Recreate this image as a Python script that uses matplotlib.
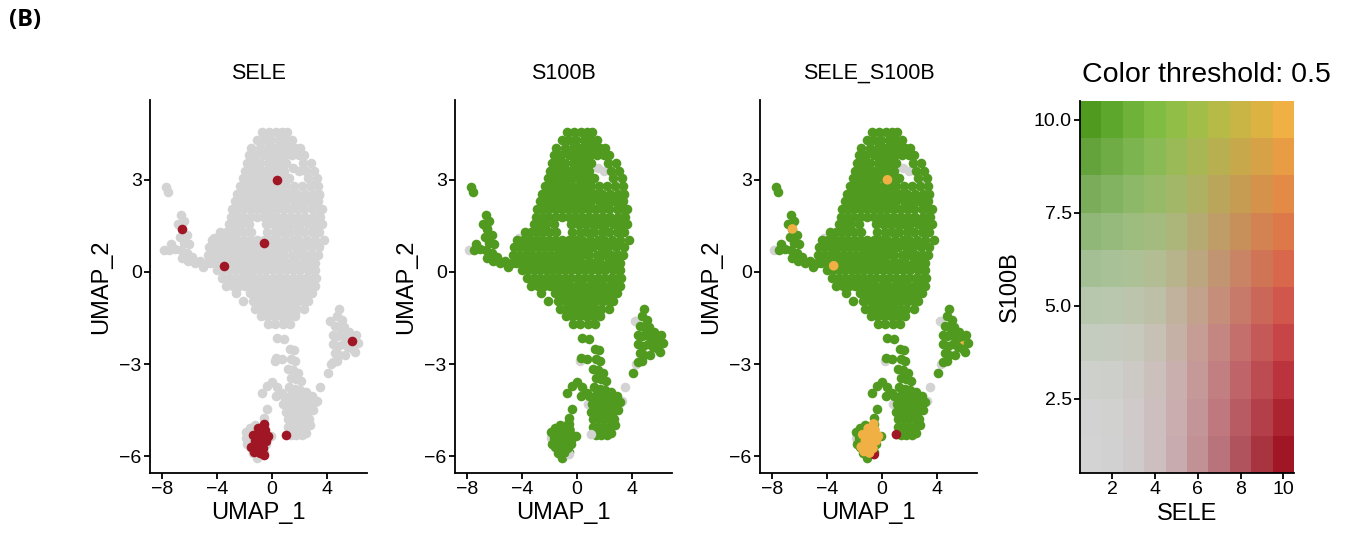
import numpy as np
import matplotlib
matplotlib.use("Agg")
import matplotlib.pyplot as plt

plt.rcParams["font.family"] = ["Liberation Sans", "DejaVu Sans"]

# ---- data (UMAP coordinates) ----
# main body, row by row: (UMAP_2, [UMAP_1 ...])
body_rows = [
    (4.55, [-0.7, -0.2, 0.3, 0.75, 1.1]),
    (4.30, [-1.1, -0.55, -0.05, 0.5, 1.0, 1.45]),
    (4.05, [-1.5, -0.85, -0.3, 0.25, 0.75, 1.25, 1.7, 2.05]),
    (3.80, [-1.7, -1.15, -0.6, -0.05, 0.45, 0.95, 1.45, 1.95, 2.35]),
    (3.55, [-1.8, -1.35, -0.85, -0.3, 0.2, 0.7, 1.05, 2.25, 2.85]),
    (3.30, [-1.95, -1.5, -1.05, -0.55, -0.05, 0.45, 0.9, 2.45, 3.05]),
    (3.05, [-2.1, -1.65, -1.2, -0.75, -0.25, 0.25, 0.75, 1.25, 2.6, 3.25]),
    (2.80, [-2.3, -1.85, -1.4, -0.95, -0.45, 0.05, 0.5, 1.0, 1.6, 2.15, 2.75, 3.35]),
    (2.55, [-2.5, -2.05, -1.6, -1.15, -0.7, -0.2, 0.3, 0.8, 1.3, 1.85, 2.4, 2.95, 3.45]),
    (2.30, [-2.7, -2.25, -1.8, -1.35, -0.9, -0.45, 0.05, 0.55, 1.05, 1.6, 2.1, 2.65, 3.15, 3.35]),
    (2.05, [-2.9, -2.45, -2.0, -1.55, -1.1, -0.65, -0.2, 0.3, 0.8, 1.3, 1.85, 2.35, 2.9, 3.35, 3.6]),
    (1.80, [-3.0, -2.55, -2.1, -1.6, -1.1, -0.6, -0.1, 0.4, 0.9, 1.4, 1.9, 2.4, 2.95, 3.5]),
    (1.55, [-3.15, -2.7, -2.25, -1.7, -0.45, 0.05, 0.6, 1.1, 1.55, 2.05, 2.6, 3.15, 3.65]),
    (1.30, [-3.8, -3.35, -2.9, -2.45, -2.0, -1.5, -0.35, 0.2, 0.7, 1.25, 1.8, 2.35, 2.9, 3.45]),
    (1.05, [-4.35, -3.9, -3.45, -2.95, -2.5, -2.05, -1.6, -1.1, -0.6, -0.1, 0.4, 0.95, 1.5, 2.0, 2.55, 3.1, 3.75]),
    (0.80, [-4.55, -4.1, -3.65, -3.2, -2.75, -2.3, -1.85, -1.35, -0.85, -0.35, 0.15, 0.65, 1.2, 1.75, 2.25, 2.8, 3.45]),
    (0.55, [-4.65, -4.2, -3.75, -3.3, -2.85, -2.4, -1.95, -1.5, -1.05, -0.6, -0.1, 0.4, 0.9, 1.45, 1.95, 2.5, 3.0, 3.35]),
    (0.30, [-4.4, -3.95, -3.5, -3.05, -2.6, -2.15, -1.7, -1.25, -0.8, -0.3, 0.2, 0.7, 1.2, 1.7, 2.25, 2.75, 3.15]),
    (0.05, [-4.0, -3.55, -3.1, -2.65, -2.2, -1.75, -1.3, -0.85, -0.4, 0.1, 0.6, 1.05, 1.55, 2.05, 2.6, 3.1]),
    (-0.20, [-3.6, -3.15, -2.7, -2.25, -1.8, -1.35, -0.9, -0.45, 0.05, 0.5, 1.0, 1.5, 2.0, 2.5, 2.95, 3.2]),
    (-0.45, [-3.3, -2.85, -2.4, -1.95, -1.5, -1.05, -0.6, -0.1, 0.35, 0.85, 1.3, 1.8, 2.3, 2.75, 3.1]),
    (-0.70, [-2.6, -1.6, -1.15, -0.7, -0.25, 0.25, 0.7, 1.15, 1.65, 2.1, 2.55, 2.9]),
    (-0.95, [-2.1, -1.35, -0.9, -0.45, 0.0, 0.5, 0.95, 1.4, 1.9, 2.35, 2.6]),
    (-1.20, [-1.2, -0.7, -0.2, 0.3, 0.75, 1.25, 1.75, 2.3]),
    (-1.45, [-0.8, -0.35, 0.15, 0.65, 1.15, 1.7]),
    (-1.70, [-0.3, 0.25, 0.8, 1.3]),
]

left_cluster = [
    (-7.7, 2.75), (-7.55, 2.6), (-6.6, 1.85), (-6.4, 1.65), (-6.8, 1.55),
    (-6.5, 1.4), (-6.2, 1.2), (-6.7, 1.15), (-6.4, 0.95), (-7.3, 0.9),
    (-7.5, 0.7), (-7.0, 0.75), (-6.0, 0.9), (-6.6, 0.7), (-6.2, 0.6),
    (-5.8, 0.5), (-6.5, 0.45), (-6.1, 0.35), (-5.6, 0.3), (-5.2, 0.35),
    (-5.0, 0.15), (-4.7, 0.3),
]

right_cluster = [
    (4.85, -1.2), (4.75, -1.45), (5.05, -1.55), (4.6, -1.75), (4.9, -1.8),
    (5.25, -1.8), (5.6, -1.95), (4.4, -2.05), (4.75, -2.1), (5.1, -2.05),
    (5.45, -2.15), (5.8, -2.1), (6.1, -2.05), (6.25, -2.3), (4.45, -2.35),
    (4.8, -2.4), (5.15, -2.35), (5.5, -2.45), (5.85, -2.5), (6.05, -2.6),
    (4.55, -2.65), (4.9, -2.7), (5.3, -2.7), (4.4, -2.95), (4.7, -2.9),
    (4.05, -3.3),
]

lower_cluster = [
    (0.4, -2.15), (0.85, -2.2), (0.3, -2.8), (0.75, -2.85),
    (1.3, -2.5), (1.6, -2.55), (1.35, -2.85), (1.7, -2.9), (1.2, -3.15),
    (1.55, -3.2), (1.9, -3.3), (1.35, -3.45), (1.75, -3.5), (2.1, -3.55),
    (1.25, -3.75), (1.65, -3.8), (2.05, -3.85), (2.45, -3.9),
    (-0.7, -3.95), (-0.35, -3.7), (0.0, -3.6), (0.35, -3.75), (0.7, -3.95),
    (0.3, -4.05), (-0.35, -4.45), (-0.6, -4.75),
    (0.9, -4.05), (1.3, -4.05), (1.7, -4.05), (2.1, -4.05), (2.5, -4.05), (2.9, -4.05),
    (1.1, -4.3), (1.5, -4.3), (1.9, -4.3), (2.3, -4.3), (2.7, -4.3), (3.1, -4.25),
    (1.0, -4.55), (1.4, -4.55), (1.8, -4.55), (2.2, -4.55), (2.6, -4.55), (2.95, -4.5),
    (1.15, -4.8), (1.55, -4.8), (1.95, -4.8), (2.35, -4.8), (2.7, -4.8),
    (1.2, -5.05), (1.6, -5.05), (2.0, -5.05), (2.4, -5.05), (2.75, -5.0),
    (1.35, -5.3), (1.75, -5.3), (2.15, -5.3), (2.5, -5.25),
]

bottom_left_cluster = [
    (-1.6, -5.1), (-1.2, -5.0), (-0.6, -4.95), (-1.7, -5.4), (-1.3, -5.3),
    (-0.9, -5.25), (-0.5, -5.3), (-0.1, -5.35), (-1.6, -5.7), (-1.2, -5.6),
    (-0.8, -5.55), (-0.4, -5.6), (-1.4, -5.9), (-1.0, -5.85), (-0.6, -5.85),
    (-1.1, -6.05), (-1.85, -5.2), (-1.8, -5.6),
]

# cells without S100B (grey in the S100B and blend panels)
s100b_neg = [
    (3.5, -3.75), (3.3, -4.2), (-4.2, 1.1), (1.5, 3.4), (3.15, 2.85),
    (3.4, 2.5), (4.2, -1.6), (4.3, -3.0), (1.7, -1.35), (0.2, -2.9),
    (0.8, -4.3), (-1.9, -5.4), (-7.8, 0.7), (-4.4, 0.85), (2.0, 3.3),
    (5.9, -2.45),
]

# SELE expressing cells: (UMAP_1, UMAP_2, also S100B+, drawn on top in blend)
sele_cells = [
    (0.4, 3.0, True, True), (-6.5, 1.4, True, True), (-0.6, 0.95, True, False),
    (-3.5, 0.2, True, True), (5.8, -2.25, True, False), (1.05, -5.3, False, True),
    (-0.55, -5.95, False, True),
    (-0.6, -4.95, True, True), (-1.0, -5.1, True, True), (-1.4, -5.3, True, True),
    (-0.7, -5.3, True, True), (-0.25, -5.35, True, True), (-1.2, -5.5, True, True),
    (-0.8, -5.5, True, True), (-0.4, -5.5, True, True), (-1.5, -5.7, True, True),
    (-1.0, -5.7, True, True), (-0.65, -5.75, True, True), (-1.3, -5.85, True, True),
    (-0.9, -5.9, True, True), (-0.5, -5.15, True, True), (-1.1, -5.3, True, True),
]

grid_n = 10
col_threshold = 0.5
neg_color = (211, 211, 211)
sele_color = (160, 22, 36)
s100b_color = (80, 154, 32)


def blend_color(i, j, n, thr, c0, c1, c2):
    # Seurat BlendMatrix colour rule
    sig = lambda v: 1.0 / (1.0 + np.exp(-v))
    c0, c1, c2 = [np.array(c, dtype=float) for c in (c0, c1, c2)]
    cmin = sig(5 * (1.0 / n - thr))
    cmax = sig(5 * (1.0 - thr))
    w1 = (sig(5 * (i / n - thr)) - cmin) / (cmax - cmin)
    w2 = (sig(5 * (j / n - thr)) - cmin) / (cmax - cmin)
    w0 = (sig(5 * ((i + j) / (2.0 * n) - thr)) - cmin) / (cmax - cmin)
    out = ((c1 - c0) * w1 * (i - 1) / (n - 1) + (c2 - c0) * w2 * (j - 1) / (n - 1)
           + (i - 1) * (j - 1) * w0 * c0 / (n - 1) ** 2 + c0)
    return np.clip(out, 0, 255) / 255.0


blend = np.zeros((grid_n, grid_n, 3))
for jj in range(1, grid_n + 1):
    for ii in range(1, grid_n + 1):
        blend[jj - 1, ii - 1] = blend_color(ii, jj, grid_n, col_threshold,
                                            neg_color, sele_color, s100b_color)

c_grey = blend[0, 0]
c_red = blend[0, grid_n - 1]
c_green = blend[grid_n - 1, 0]
c_orange = blend[grid_n - 1, grid_n - 1]

# collect all cells
pos_cells = []
for yy, xs in body_rows:
    for xx in xs:
        pos_cells.append((xx, yy))
pos_cells += left_cluster + right_cluster + lower_cluster + bottom_left_cluster
pos_cells = np.array(pos_cells)
neg_cells = np.array(s100b_neg)
sele = np.array([(c[0], c[1]) for c in sele_cells])
sele_both = np.array([c[2] for c in sele_cells])
sele_front = np.array([c[3] for c in sele_cells])

W, H = 1351, 538
fig = plt.figure(figsize=(W / 100, H / 100), dpi=100)

def px_axes(l, t, r, b):
    return fig.add_axes([l / W, 1 - b / H, (r - l) / W, (b - t) / H])

dot = 48
xlim = (-8.85, 6.9)
ylim = (-6.55, 5.6)

def style(ax, title):
    ax.set_xlim(*xlim)
    ax.set_ylim(*ylim)
    for s in ("top", "right"):
        ax.spines[s].set_visible(False)
    for s in ("left", "bottom"):
        ax.spines[s].set_linewidth(1.3)
    ax.set_xticks([-8, -4, 0, 4])
    ax.set_yticks([-6, -3, 0, 3])
    ax.tick_params(length=4, width=1.3, labelsize=14, colors="black", pad=2)
    ax.set_xlabel("UMAP_1", fontsize=17, labelpad=3)
    ax.set_ylabel("UMAP_2", fontsize=17, labelpad=5)
    ax.set_title(title, fontsize=15.5, pad=15)

panels = [(150, 367), (455, 672), (760, 977)]

# SELE
ax1 = px_axes(panels[0][0], 100, panels[0][1], 473)
ax1.scatter(neg_cells[:, 0], neg_cells[:, 1], s=dot, c=[c_grey], linewidths=0)
ax1.scatter(pos_cells[:, 0], pos_cells[:, 1], s=dot, c=[c_grey], linewidths=0)
ax1.scatter(sele[:, 0], sele[:, 1], s=dot, c=[c_red], linewidths=0)
style(ax1, "SELE")

# S100B
ax2 = px_axes(panels[1][0], 100, panels[1][1], 473)
ax2.scatter(neg_cells[:, 0], neg_cells[:, 1], s=dot, c=[c_grey], linewidths=0)
ax2.scatter(pos_cells[:, 0], pos_cells[:, 1], s=dot, c=[c_green], linewidths=0)
ax2.scatter(sele[:, 0], sele[:, 1], s=dot, c=[c_green if b else c_grey for b in sele_both], linewidths=0)
style(ax2, "S100B")

# blend
ax3 = px_axes(panels[2][0], 100, panels[2][1], 473)
blend_cols = [c_orange if b else c_red for b in sele_both]
ax3.scatter(neg_cells[:, 0], neg_cells[:, 1], s=dot, c=[c_grey], linewidths=0)
back = ~sele_front
ax3.scatter(sele[back, 0], sele[back, 1], s=dot,
            c=[blend_cols[k] for k in np.where(back)[0]], linewidths=0)
ax3.scatter(pos_cells[:, 0], pos_cells[:, 1], s=dot, c=[c_green], linewidths=0)
ax3.scatter(sele[sele_front, 0], sele[sele_front, 1], s=dot,
            c=[blend_cols[k] for k in np.where(sele_front)[0]], linewidths=0)
style(ax3, "SELE_S100B")

# colour legend
ax4 = px_axes(1080, 101, 1294, 473)
ax4.imshow(blend, origin="lower", extent=(0.5, grid_n + 0.5, 0.5, grid_n + 0.5),
           aspect="auto", interpolation="nearest")
ax4.set_xlim(0.5, grid_n + 0.5)
ax4.set_ylim(0.5, grid_n + 0.5)
for s in ("top", "right"):
    ax4.spines[s].set_visible(False)
for s in ("left", "bottom"):
    ax4.spines[s].set_linewidth(1.3)
ax4.set_xticks([2, 4, 6, 8, 10])
ax4.set_yticks([2.5, 5.0, 7.5, 10.0])
ax4.set_yticklabels(["2.5", "5.0", "7.5", "10.0"])
ax4.tick_params(length=4, width=1.3, labelsize=14, colors="black", pad=2)
ax4.set_xlabel("SELE", fontsize=17, labelpad=3)
ax4.set_ylabel("S100B", fontsize=17, labelpad=9)
fig.text(1206 / W, 1 - 75 / H, "Color threshold: 0.5", fontsize=20.5,
         ha="center", va="center")

fig.text(9 / W, 1 - 20 / H, "(B)", fontsize=17, fontweight="bold",
         family=["Open Sans", "DejaVu Sans"], ha="left", va="center")

fig.savefig("out.png", dpi=100, facecolor="white")
